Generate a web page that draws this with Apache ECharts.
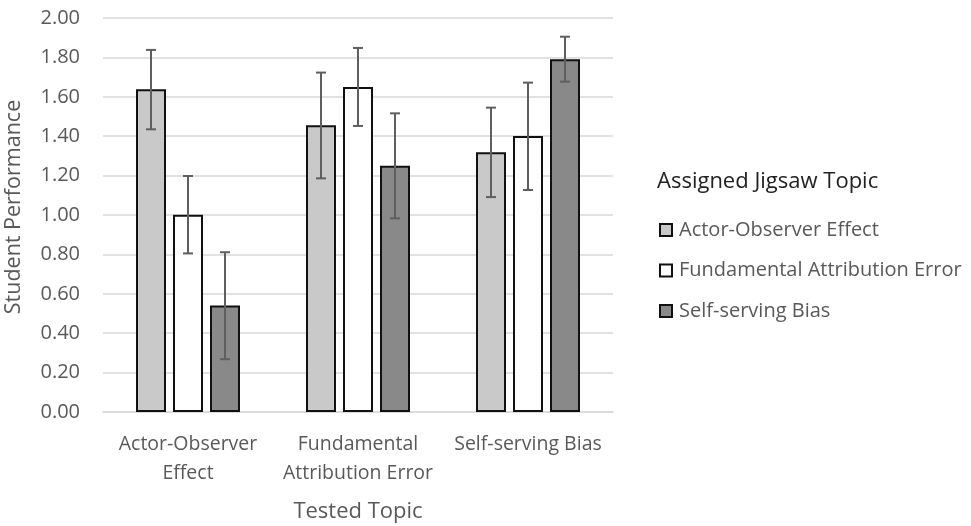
<!DOCTYPE html>
<html>
<head>
<meta charset="utf-8">
<script src="https://cdn.jsdelivr.net/npm/echarts@6/dist/echarts.min.js"></script>
<style>html,body{margin:0;padding:0;background:#fff}#c{width:971px;height:526px}</style>
</head>
<body>
<div id="c"></div>
<script>
// ---- data ----
var categories = ['Actor-Observer\nEffect', 'Fundamental\nAttribution Error', 'Self-serving Bias'];
var seriesNames = ['Actor-Observer Effect', 'Fundamental Attribution Error', 'Self-serving Bias'];
var actorObserver = [1.638, 1.455, 1.318];
var fundamental = [1.001, 1.650, 1.401];
var selfServing = [0.541, 1.250, 1.791];
var actorObserverErr = [[1.435, 1.838], [1.186, 1.723], [1.091, 1.545]];
var fundamentalErr = [[0.805, 1.198], [1.452, 1.848], [1.127, 1.672]];
var selfServingErr = [[0.268, 0.811], [0.983, 1.516], [1.677, 1.905]];
var yTicks = { min: 0, max: 2, interval: 0.2 };

// ---- styling ----
var fills = ['#c9c9c9', '#ffffff', '#898989'];
var barW = 30, barGapPx = 7;
var font = 'Open Sans, Liberation Sans, sans-serif';
var textColor = '#595959';

var values = [actorObserver, fundamental, selfServing];
var errs = [actorObserverErr, fundamentalErr, selfServingErr];

var series = [];
values.forEach(function (v, i) {
  series.push({
    name: seriesNames[i], type: 'bar', data: v,
    barWidth: barW, barGap: (barGapPx / barW * 100) + '%',
    itemStyle: { color: fills[i], borderColor: '#111', borderWidth: 2 },
    emphasis: { disabled: true }, z: 2
  });
});
errs.forEach(function (e, i) {
  var off = (i - 1) * (barW + barGapPx);
  series.push({
    type: 'custom', name: 'err' + i, z: 5, silent: true,
    data: e.map(function (d, k) { return [k, d[0], d[1]]; }),
    encode: { x: 0, y: [1, 2] },
    renderItem: function (params, api) {
      var lo = api.coord([api.value(0), api.value(1)]);
      var hi = api.coord([api.value(0), api.value(2)]);
      var x = lo[0] + off, cap = 5;
      var st = { stroke: '#5f5f5f', lineWidth: 2 };
      return { type: 'group', children: [
        { type: 'line', shape: { x1: x, y1: lo[1], x2: x, y2: hi[1] }, style: st },
        { type: 'line', shape: { x1: x - cap, y1: lo[1], x2: x + cap, y2: lo[1] }, style: st },
        { type: 'line', shape: { x1: x - cap, y1: hi[1], x2: x + cap, y2: hi[1] }, style: st }
      ]};
    }
  });
});

var chart = echarts.init(document.getElementById('c'));
chart.setOption({
  animation: false,
  textStyle: { fontFamily: font },
  grid: { left: 103, right: 358, top: 18, bottom: 114, outerBoundsMode: 'none', containLabel: false },
  title: {
    text: 'Assigned Jigsaw Topic', left: 652, top: 166,
    textStyle: { fontFamily: font, fontSize: 22, fontWeight: 'normal', color: '#222' }
  },
  legend: {
    data: seriesNames.map(function (n) { return { name: n, icon: 'rect' }; }),
    orient: 'vertical', left: 654, top: 215,
    itemWidth: 12, itemHeight: 12, itemGap: 20.5,
    textStyle: { fontFamily: font, fontSize: 20, color: textColor, padding: [0, 0, 0, 2] },
    selectedMode: false
  },
  xAxis: {
    type: 'category', data: categories,
    axisLine: { lineStyle: { color: '#d9d9d9', width: 1.5 } },
    axisTick: { show: false },
    axisLabel: { interval: 0, fontSize: 19.5, color: textColor, lineHeight: 29, margin: 18 },
    name: 'Tested Topic', nameLocation: 'middle', nameGap: 89,
    nameTextStyle: { fontSize: 22, color: textColor }
  },
  yAxis: {
    type: 'value', min: yTicks.min, max: yTicks.max, interval: yTicks.interval,
    axisLabel: { fontSize: 20, color: textColor, margin: 23, formatter: function (v) { return v.toFixed(2); } },
    splitLine: { lineStyle: { color: '#d9d9d9', width: 1.5 } },
    axisLine: { show: false }, axisTick: { show: false },
    name: 'Student Performance', nameLocation: 'middle', nameGap: 78,
    nameTextStyle: { fontSize: 21.5, color: textColor, padding: [0, 0, 0, 16] }
  },
  series: series
});
</script>
</body>
</html>
